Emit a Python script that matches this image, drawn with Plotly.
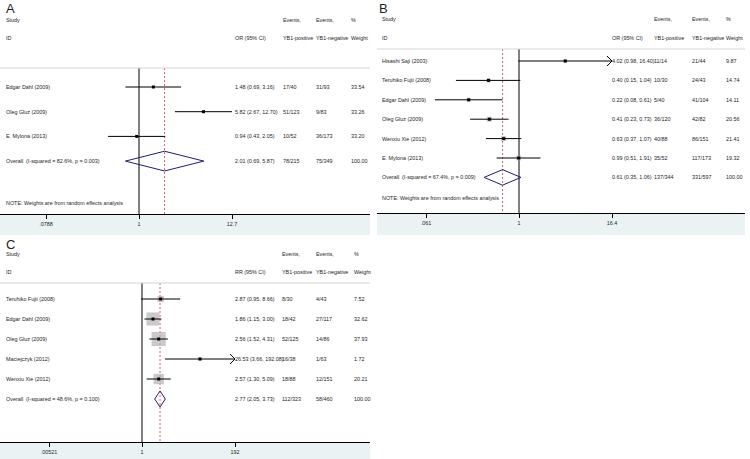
import math
import plotly.graph_objects as go

W, H = 750, 459

# ---- panel A: OR, random effects
a_study = ["Edgar Dahl (2009)", "Oleg Gluz (2009)", "E. Mylona (2013)"]
a_est = [1.48, 5.82, 0.94]
a_lo = [0.69, 2.67, 0.43]
a_hi = [3.16, 12.70, 2.05]
a_pos = ["17/40", "51/123", "10/52"]
a_neg = ["31/93", "9/83", "36/173"]
a_wt = [33.54, 33.26, 33.20]
a_overall = ["Overall  (I-squared = 82.6%, p = 0.003)", 2.01, 0.69, 5.87, "78/215", "75/349", 100.00]
a_ticks = [0.0788, 1, 12.7]
a_ticktext = [".0788", "1", "12.7"]

# ---- panel B: OR, random effects
b_study = ["Hisashi Saji (2003)", "Teruhiko Fujii (2008)", "Edgar Dahl (2009)",
           "Oleg Gluz (2009)", "Wenxiu Xie (2012)", "E. Mylona (2013)"]
b_est = [4.02, 0.40, 0.22, 0.41, 0.63, 0.99]
b_lo = [0.98, 0.15, 0.08, 0.23, 0.37, 0.51]
b_hi = [16.40, 1.04, 0.61, 0.73, 1.07, 1.91]
b_pos = ["11/14", "10/30", "5/40", "36/120", "40/88", "35/52"]
b_neg = ["21/44", "24/43", "41/104", "42/82", "86/151", "117/173"]
b_wt = [9.87, 14.74, 14.11, 20.56, 21.41, 19.32]
b_overall = ["Overall  (I-squared = 67.4%, p = 0.009)", 0.61, 0.35, 1.06, "137/344", "331/597", 100.00]
b_ticks = [0.061, 1, 16.4]
b_ticktext = [".061", "1", "16.4"]

# ---- panel C: RR
c_study = ["Teruhiko Fujii (2008)", "Edgar Dahl (2009)", "Oleg Gluz (2009)",
           "Maciejczyk (2012)", "Wenxiu Xie (2012)"]
c_est = [2.87, 1.86, 2.56, 26.53, 2.57]
c_lo = [0.95, 1.15, 1.52, 3.66, 1.30]
c_hi = [8.66, 3.00, 4.31, 192.08, 5.09]
c_pos = ["8/30", "18/42", "52/125", "16/38", "18/88"]
c_neg = ["4/43", "27/117", "14/86", "1/63", "12/151"]
c_wt = [7.52, 32.62, 37.93, 1.72, 20.21]
c_overall = ["Overall  (I-squared = 48.6%, p = 0.100)", 2.77, 2.05, 3.73, "112/323", "58/460", 100.00]
c_ticks = [0.00521, 1, 192]
c_ticktext = [".00521", "1", "192"]

NOTE = "NOTE: Weights are from random effects analysis"
TXT = "#1e1e1e"
FS = 5.4

panels = [
    dict(letter="A", label="OR (95% CI)", study=a_study, est=a_est, lo=a_lo, hi=a_hi,
         pos=a_pos, neg=a_neg, wt=a_wt, ov=a_overall, ticks=a_ticks, ticktext=a_ticktext,
         x0=0, x1=370, top=0, axis=214, row0=87, sp=24.7, hline=68, hy1=20, hy2=38,
         note=203, cols=[4, 233, 281, 314, 349], null=139, tickpx=232, box=0, clip=None,
         letter_xy=(4, 8)),
    dict(letter="B", label="OR (95% CI)", study=b_study, est=b_est, lo=b_lo, hi=b_hi,
         pos=b_pos, neg=b_neg, wt=b_wt, ov=b_overall, ticks=b_ticks, ticktext=b_ticktext,
         x0=377, x1=745, top=0, axis=213, row0=61, sp=19.4, hline=49, hy1=19, hy2=38,
         note=198, cols=[380, 610, 652, 690, 724], null=519, tickpx=612, box=1.1, clip=16.4,
         letter_xy=(377, 8)),
    dict(letter="C", label="RR (95% CI)", study=c_study, est=c_est, lo=c_lo, hi=c_hi,
         pos=c_pos, neg=c_neg, wt=c_wt, ov=c_overall, ticks=c_ticks, ticktext=c_ticktext,
         x0=0, x1=370, top=236, axis=442, row0=299, sp=20, hline=283, hy1=254, hy2=272,
         note=None, cols=[4, 233, 280, 314, 352], null=142, tickpx=235, box=2.3, clip=192,
         letter_xy=(4, 245)),
]

fig = go.Figure()
annos = []
shapes = []


def py(p):
    return 1 - p / H


for k, p in enumerate(panels):
    n = k + 1
    xa = "x" if n == 1 else f"x{n}"
    ya = "y" if n == 1 else f"y{n}"
    ppd = (p["tickpx"] - p["null"]) / math.log10(p["ticks"][-1])
    xr = [(p["x0"] - p["null"]) / ppd, (p["x1"] - p["null"]) / ppd]
    top_row = (p["top"] - p["row0"]) / p["sp"]
    bot_row = (p["axis"] - p["row0"]) / p["sp"]
    hrow = (p["hline"] - p["row0"]) / p["sp"]
    rows = list(range(len(p["study"])))
    orow = len(rows)

    fig.layout["xaxis" if n == 1 else f"xaxis{n}"] = dict(
        type="log", range=xr, domain=[p["x0"] / W, p["x1"] / W], anchor=ya,
        showgrid=False, zeroline=False, showline=True, linecolor="#000", linewidth=1.3,
        ticks="outside", ticklen=4, tickwidth=1, tickcolor="#000",
        tickvals=p["ticks"], ticktext=p["ticktext"],
        tickfont=dict(size=FS, color=TXT), fixedrange=True)
    fig.layout["yaxis" if n == 1 else f"yaxis{n}"] = dict(
        range=[bot_row, top_row], domain=[py(p["axis"]), py(p["top"])], anchor=xa,
        visible=False, fixedrange=True)

    # graph-region band under the axis
    band_bottom = 235 if n < 3 else H
    shapes.append(dict(type="rect", xref=f"{xa} domain", yref="paper", x0=0, x1=1,
                       y0=py(band_bottom), y1=py(p["axis"]), fillcolor="#eaf2f3",
                       line_width=0, layer="below"))
    shapes.append(dict(type="line", xref=f"{xa} domain", yref="paper", x0=0, x1=1,
                       y0=py(p["hline"]), y1=py(p["hline"]), line=dict(color="#d4d4d4", width=1)))

    # null line and overall estimate line
    fig.add_trace(go.Scatter(x=[1, 1], y=[hrow, bot_row], mode="lines", xaxis=xa, yaxis=ya,
                             line=dict(color="#000", width=1), hoverinfo="skip"))
    ov = p["ov"]
    fig.add_trace(go.Scatter(x=[ov[1], ov[1]], y=[hrow, bot_row], mode="lines", xaxis=xa, yaxis=ya,
                             line=dict(color="#d0646c", width=1, dash="2px,2px"), hoverinfo="skip"))

    # weight boxes
    if p["box"]:
        fig.add_trace(go.Scatter(x=p["est"], y=rows, mode="markers", xaxis=xa, yaxis=ya,
                                 marker=dict(symbol="square", color="#b4b4b4",
                                             size=[p["box"] * math.sqrt(w) for w in p["wt"]],
                                             line_width=0), hoverinfo="skip"))

    # CI lines, truncated ones end in an open chevron at the axis limit
    cx, cy = [], []
    chev = 10 ** (-5 / ppd)
    for i, (lo, hi) in enumerate(zip(p["lo"], p["hi"])):
        end = hi
        if p["clip"] and hi >= p["clip"]:
            end = p["clip"]
            hh = 5 / p["sp"]
            cx += [end * chev, end, end * chev, None]
            cy += [i - hh, i, i + hh, None]
        cx += [lo, end, None]
        cy += [i, i, None]
    fig.add_trace(go.Scatter(x=cx, y=cy, mode="lines", xaxis=xa, yaxis=ya,
                             line=dict(color="#000", width=1), hoverinfo="skip"))
    fig.add_trace(go.Scatter(x=p["est"], y=rows, mode="markers", xaxis=xa, yaxis=ya,
                             marker=dict(symbol="square", color="#000", size=3), hoverinfo="skip"))

    # overall diamond
    h = 0.4
    fig.add_trace(go.Scatter(x=[ov[2], ov[1], ov[3], ov[1], ov[2]],
                             y=[orow, orow - h, orow, orow + h, orow], mode="lines",
                             xaxis=xa, yaxis=ya, line=dict(color="#1c1c78", width=1),
                             hoverinfo="skip"))

    # text columns
    c = p["cols"]

    def txt(xp, y, s, yref="paper", size=FS):
        annos.append(dict(x=xp / W, y=y, xref="paper", yref=yref, text=s, showarrow=False,
                          xanchor="left", yanchor="middle", font=dict(size=size, color=TXT)))

    txt(c[0], py(p["hy1"]), "Study")
    txt(c[0], py(p["hy2"]), "ID")
    txt(c[1], py(p["hy2"]), p["label"])
    txt(c[2], py(p["hy1"]), "Events,")
    txt(c[2], py(p["hy2"]), "YB1-positive")
    txt(c[3], py(p["hy1"]), "Events,")
    txt(c[3], py(p["hy2"]), "YB1-negative")
    txt(c[4], py(p["hy1"]), "%")
    txt(c[4], py(p["hy2"]), "Weight")
    for i in rows:
        txt(c[0], i, p["study"][i], ya)
        txt(c[1], i, f"{p['est'][i]:.2f} ({p['lo'][i]:.2f}, {p['hi'][i]:.2f})", ya)
        txt(c[2], i, p["pos"][i], ya)
        txt(c[3], i, p["neg"][i], ya)
        txt(c[4], i, f"{p['wt'][i]:.2f}", ya)
    txt(c[0], orow, ov[0], ya)
    txt(c[1], orow, f"{ov[1]:.2f} ({ov[2]:.2f}, {ov[3]:.2f})", ya)
    txt(c[2], orow, ov[4], ya)
    txt(c[3], orow, ov[5], ya)
    txt(c[4], orow, f"{ov[6]:.2f}", ya)
    if p["note"]:
        txt(c[0], py(p["note"]), NOTE)
    lx, ly = p["letter_xy"]
    txt(lx, py(ly), p["letter"], size=13)

fig.update_layout(
    width=W, height=H, margin=dict(l=0, r=0, t=0, b=0),
    paper_bgcolor="white", plot_bgcolor="white", showlegend=False,
    font=dict(family="Liberation Sans, Arial, sans-serif", color=TXT),
    annotations=annos, shapes=shapes,
)

# page body margin would shift the figure off the 750x459 window
fig.write_html("out.html", config={"displayModeBar": False},
               post_script="document.body.style.margin='0';")
